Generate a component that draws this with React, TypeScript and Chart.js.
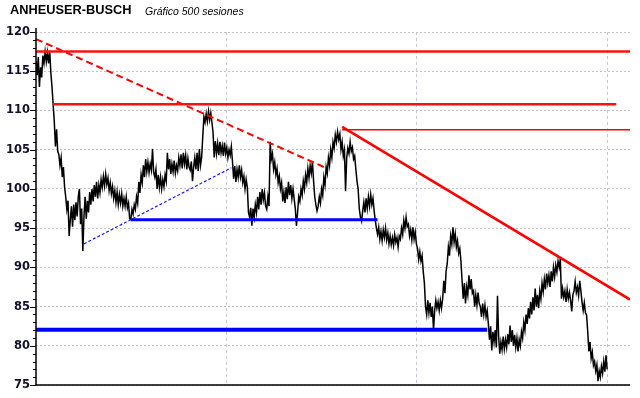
import React, { useEffect, useRef } from "react";
import { Chart, registerables } from "chart.js";

Chart.register(...registerables);

// Daily prices, session 0..500
const PRICES: number[] = [
  116.3, 114.5, 116.8, 113.0, 115.5, 114.2, 117.0, 116.0, 117.5, 116.2,
  117.4, 116.0, 117.6, 114.8, 113.0, 110.8, 108.6, 105.4, 107.6, 104.8,
  104.4, 103.0, 104.0, 101.5, 102.8, 100.3, 99.0, 97.4, 98.5, 94.0,
  96.0, 97.8, 95.2, 98.0, 96.0, 98.3, 96.5, 99.0, 100.0, 95.5,
  97.5, 92.1, 96.5, 99.0, 96.2, 98.5, 97.0, 99.6, 98.0, 100.0,
  98.4, 100.5, 99.0, 100.9, 98.8, 100.5, 99.5, 101.2, 100.2, 101.6,
  100.4, 101.9, 100.6, 101.4, 99.8, 100.8, 99.4, 100.3, 98.8, 99.8,
  98.3, 99.6, 98.0, 99.3, 98.2, 99.4, 97.8, 98.8, 97.8, 99.0,
  97.6, 98.2, 96.2, 96.1, 97.4, 96.8, 98.0, 97.4, 99.0, 98.2,
  100.9, 99.5, 101.8, 100.8, 103.0, 101.5, 103.8, 102.2, 103.4, 102.1,
  103.2, 102.4, 105.1, 102.1, 101.5, 102.5, 100.0, 101.8, 100.2, 101.5,
  100.0, 101.2, 100.3, 101.8, 101.0, 104.6, 102.5, 103.8, 101.9, 103.2,
  102.2, 103.6, 102.0, 103.0, 102.3, 104.0, 103.0, 104.4, 102.6, 104.6,
  103.2, 104.3, 102.5, 103.9, 102.8, 102.4, 103.5, 101.0, 102.8, 104.0,
  102.5, 104.6, 102.3, 105.1, 103.0, 104.0, 106.7, 109.2, 108.5, 109.6,
  108.6, 109.9, 108.8, 109.7, 108.5, 107.2, 104.0, 106.1, 104.5, 105.8,
  104.3, 106.0, 104.6, 105.5, 104.2, 105.9, 104.5, 105.3, 104.0, 105.0,
  104.3, 105.4, 103.5, 101.3, 102.9, 100.9, 102.5, 101.5, 103.0, 101.5,
  102.4, 100.8, 101.6, 100.0, 101.2, 100.2, 97.0, 96.4, 97.6, 95.3,
  97.5, 96.4, 98.0, 97.0, 99.0, 97.4, 99.6, 98.0, 100.0, 98.6,
  99.5, 97.8, 97.4, 99.0, 97.8, 106.0, 103.8, 104.5, 102.5, 103.4,
  101.8, 102.6, 100.8, 101.6, 100.0, 100.8, 98.4, 99.6, 98.2, 100.2,
  98.7, 100.9, 99.2, 100.5, 98.8, 100.0, 98.7, 97.5, 95.3, 97.0,
  99.0, 98.4, 100.0, 99.2, 101.0, 100.0, 101.8, 100.8, 102.6, 101.4,
  103.0, 102.0, 103.5, 101.0, 99.0, 98.0, 97.2, 97.8, 99.0, 98.2,
  100.0, 99.2, 101.5, 100.5, 102.8, 102.0, 104.0, 103.0, 105.0, 104.0,
  106.0, 105.2, 106.9, 106.0, 107.3, 106.3, 107.0, 105.0, 106.0, 104.2,
  105.0, 99.7, 104.0, 105.2, 104.5, 106.0, 104.8, 105.3, 103.8, 104.2,
  102.5, 101.0, 100.0, 97.5, 96.4, 95.9, 97.2, 98.3, 97.0, 98.8,
  97.5, 99.0, 97.8, 99.3, 98.0, 98.8, 97.2, 96.0, 95.0, 94.2,
  95.1, 93.6, 94.6, 93.4, 94.8, 93.8, 95.0, 93.5, 94.4, 93.0,
  94.0, 92.9, 93.8, 92.8, 94.2, 93.2, 93.8, 92.6, 94.0, 93.6,
  95.0, 94.2, 96.0, 95.0, 96.4, 95.2, 95.5, 94.0, 94.8, 93.5,
  95.1, 93.6, 94.5, 93.0, 92.4, 91.0, 92.0, 90.8, 91.5, 89.5,
  88.0, 85.0, 84.0, 85.8, 84.2, 85.5, 83.7, 85.0, 82.0, 84.5,
  85.8, 84.8, 85.6, 84.5, 85.8, 84.8, 86.0, 88.3, 86.7, 89.5,
  90.5, 92.6, 91.5, 94.0, 93.0, 95.1, 93.2, 94.3, 92.6, 93.4,
  91.8, 92.4, 90.8, 88.3, 86.0, 88.0, 85.4, 87.5, 86.5, 89.0,
  87.2, 88.5, 86.7, 87.0, 85.0, 86.5, 85.2, 86.8, 85.4, 85.0,
  83.7, 85.4, 84.0, 85.2, 83.7, 84.5, 82.8, 80.8, 82.5, 79.4,
  81.8, 80.5, 82.0, 79.8, 86.4, 81.2, 79.0, 80.5, 79.5, 81.2,
  79.6, 80.8, 79.8, 81.5, 80.2, 82.6, 80.5, 82.0, 80.0, 81.4,
  79.8, 81.0, 79.3, 80.8, 80.0, 81.8, 81.0, 83.0, 82.0, 84.0,
  82.8, 84.8, 83.5, 85.6, 84.0, 86.2, 84.5, 87.3, 85.0, 86.5,
  84.8, 87.0, 86.0, 88.0, 86.9, 88.5, 87.2, 89.2, 88.0, 89.0,
  87.5, 89.5, 88.2, 90.0, 88.8, 90.3, 89.4, 90.8, 90.0, 91.1,
  86.0, 87.3, 86.2, 87.0, 85.6, 87.2, 86.0, 86.8, 85.8, 84.4,
  86.5, 87.0, 88.2, 86.8, 87.5, 86.4, 88.3, 87.0, 85.6, 84.5,
  85.5, 84.2, 83.9, 81.8, 79.3, 80.5, 78.4, 79.2, 77.5, 78.0,
  76.8, 77.6, 75.5, 76.8, 76.0, 77.4, 76.5, 78.0, 76.7, 78.8,
  77.0,
];

const SESSION_MAX = 520;
const GRID_SESSIONS = [167, 333, 500];
const Y_MIN = 75;
const Y_MAX = 120;
const Y_STEP = 5;

// Trend lines: [session start, session end], [value start, value end]
const RED_TOP_X = [0, 520];
const RED_TOP_Y = [117.5, 117.5];
const RED_MID_X = [15, 508];
const RED_MID_Y = [110.8, 110.8];
const RED_THIN_X = [268, 520];
const RED_THIN_Y = [107.55, 107.55];
const RED_DASH_X = [0, 255];
const RED_DASH_Y = [119.1, 102.6];
const RED_DIAG_X = [268, 520];
const RED_DIAG_Y = [107.9, 85.9];
const BLUE_DOT_X = [42, 171];
const BLUE_DOT_Y = [93.0, 102.7];
const BLUE_MID_X = [83, 299];
const BLUE_MID_Y = [96.08, 96.08];
const BLUE_LOW_X = [0, 395];
const BLUE_LOW_Y = [82.04, 82.04];

const pts = (xs: number[], ys: number[]) => xs.map((x, i) => ({ x, y: ys[i] }));

const seg = (
  xs: number[],
  ys: number[],
  color: string,
  width: number,
  dash: number[] = []
) => ({
  type: "line" as const,
  data: pts(xs, ys),
  borderColor: color,
  borderWidth: width,
  borderDash: dash,
  pointRadius: 0,
  tension: 0,
  fill: false,
  order: 0,
});

const axisPlugin = {
  id: "axisDecor",
  afterDraw(chart: any) {
    const { ctx, chartArea } = chart;
    const ys = chart.scales.y;
    const left = chartArea.left;
    ctx.save();
    ctx.strokeStyle = "#000";
    ctx.lineWidth = 1;
    for (let v = Y_MIN; v <= Y_MAX; v++) {
      const py = Math.round(ys.getPixelForValue(v)) + 0.5;
      const len = v % Y_STEP === 0 ? 6 : 3;
      ctx.beginPath();
      ctx.moveTo(left - len, py);
      ctx.lineTo(left, py);
      ctx.stroke();
    }
    ctx.lineWidth = 1.5;
    ctx.beginPath();
    ctx.moveTo(left, chartArea.top - 4);
    ctx.lineTo(left, chartArea.bottom);
    ctx.lineTo(chartArea.right, chartArea.bottom);
    ctx.stroke();
    ctx.restore();
  },
};

export default function App() {
  const ref = useRef<HTMLCanvasElement | null>(null);

  useEffect(() => {
    if (!ref.current) return;
    const chart = new Chart(ref.current, {
      type: "line",
      data: {
        datasets: [
          seg(RED_TOP_X, RED_TOP_Y, "#ff1010", 2.5),
          seg(RED_MID_X, RED_MID_Y, "#ff1010", 2.5),
          seg(RED_THIN_X, RED_THIN_Y, "#ff0000", 1.5),
          seg(RED_DASH_X, RED_DASH_Y, "#ff0000", 2, [7, 4]),
          seg(RED_DIAG_X, RED_DIAG_Y, "#ff0000", 2.5),
          seg(BLUE_DOT_X, BLUE_DOT_Y, "#1a1aff", 1.2, [3, 2]),
          seg(BLUE_MID_X, BLUE_MID_Y, "#0000ff", 3),
          seg(BLUE_LOW_X, BLUE_LOW_Y, "#0000ff", 4),
          {
            type: "line" as const,
            data: PRICES.map((v, i) => ({ x: i, y: v })),
            borderColor: "#000000",
            borderWidth: 1.5,
            pointRadius: 0,
            tension: 0,
            fill: false,
            order: 1,
          },
        ] as any,
      },
      options: {
        responsive: false,
        animation: false,
        events: [],
        layout: { padding: { left: 0, top: 32, right: 10, bottom: 11 } },
        plugins: {
          legend: { display: false },
          tooltip: { enabled: false },
          title: { display: false },
        },
        scales: {
          x: {
            type: "linear",
            min: 0,
            max: SESSION_MAX,
            afterBuildTicks: (s: any) => {
              s.ticks = GRID_SESSIONS.map((v) => ({ value: v }));
            },
            afterFit: (s: any) => {
              s.height = 0;
            },
            ticks: { display: false },
            grid: { color: "#c4c8d8", drawTicks: false, lineWidth: 1 },
            border: { display: false, dash: [3, 3] },
          },
          y: {
            type: "linear",
            min: Y_MIN,
            max: Y_MAX,
            afterFit: (s: any) => {
              s.width = 36;
            },
            ticks: {
              stepSize: Y_STEP,
              padding: 6,
              color: "#10102a",
              font: { family: "'DejaVu Sans', Verdana, sans-serif", size: 11.5, weight: "bold" },
            },
            grid: { color: "#c4c4c4", drawTicks: false, lineWidth: 1 },
            border: { display: false, dash: [2, 2] },
          },
        },
      },
      plugins: [axisPlugin],
    });
    return () => chart.destroy();
  }, []);

  return (
    <div style={{ position: "absolute", left: 0, top: 0, width: 640, height: 398, background: "#fff" }}>
      <canvas ref={ref} width={640} height={398} style={{ display: "block" }} />
      <div
        style={{
          position: "absolute",
          left: 10,
          top: 4,
          font: "bold 12.8px 'Liberation Sans', Arial, sans-serif",
          lineHeight: "1",
          color: "#000",
          whiteSpace: "nowrap",
        }}
      >
        ANHEUSER-BUSCH
      </div>
      <div
        style={{
          position: "absolute",
          left: 145,
          top: 6,
          font: "italic 10.5px 'Liberation Sans', Arial, sans-serif",
          lineHeight: "1",
          color: "#000",
          whiteSpace: "nowrap",
        }}
      >
        Gráfico 500 sesiones
      </div>
    </div>
  );
}
